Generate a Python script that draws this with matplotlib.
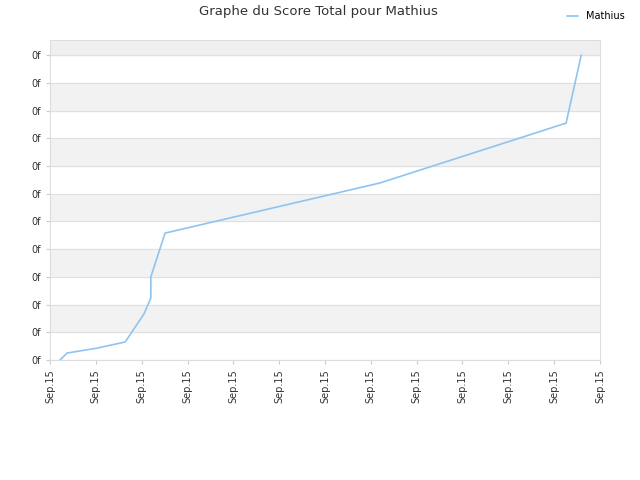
import matplotlib
matplotlib.use("Agg")
import matplotlib.pyplot as plt

# data positions in tick units (x: tick index, y: tick index)
xs = [0.22, 0.37, 1.03, 1.64, 2.05, 2.2, 2.2, 2.51, 7.2, 11.26, 11.59]
ys = [0.0, 0.25, 0.43, 0.65, 1.66, 2.24, 3.0, 4.58, 6.39, 8.55, 11.0]
xlabels = ["Sep.15"] * 13
ylabels = ["0f"] * 12
ymax = 11.55

fig = plt.figure(figsize=(6.4, 4.8), dpi=100)
ax = fig.add_axes([50/640, 1 - 360/480, 550/640, 320/480])

# alternating bands
for i in range(1, 12, 2):
    ax.axhspan(i, min(i + 1, ymax), color="#f2f2f2", zorder=0)
ax.axhspan(11, ymax, color="#efefef", zorder=0)
for i in range(12):
    ax.axhline(i, color="#e0e0e0", lw=0.8, zorder=1)

ax.plot(xs, ys, color="#90c4f0", lw=1.2, zorder=3, label="Mathius")
ax.set_xlim(0, 12)
ax.set_ylim(0, ymax)
ax.set_xticks(range(13))
ax.set_xticklabels(xlabels, rotation=90, fontsize=7, color="#333333")
ax.set_yticks(range(12))
ax.set_yticklabels(ylabels, fontsize=7, color="#333333")
ax.tick_params(length=3, color="#cccccc")
for s in ax.spines.values():
    s.set_color("#dddddd")

fig.text(0.497, 1 - 12/480, "Graphe du Score Total pour Mathius", ha="center", va="center",
         fontsize=9.5, color="#333333")
fig.legend(loc="upper right", bbox_to_anchor=(0.99, 0.995), frameon=False, fontsize=7,
           handlelength=1.2)
fig.savefig("out.png")
